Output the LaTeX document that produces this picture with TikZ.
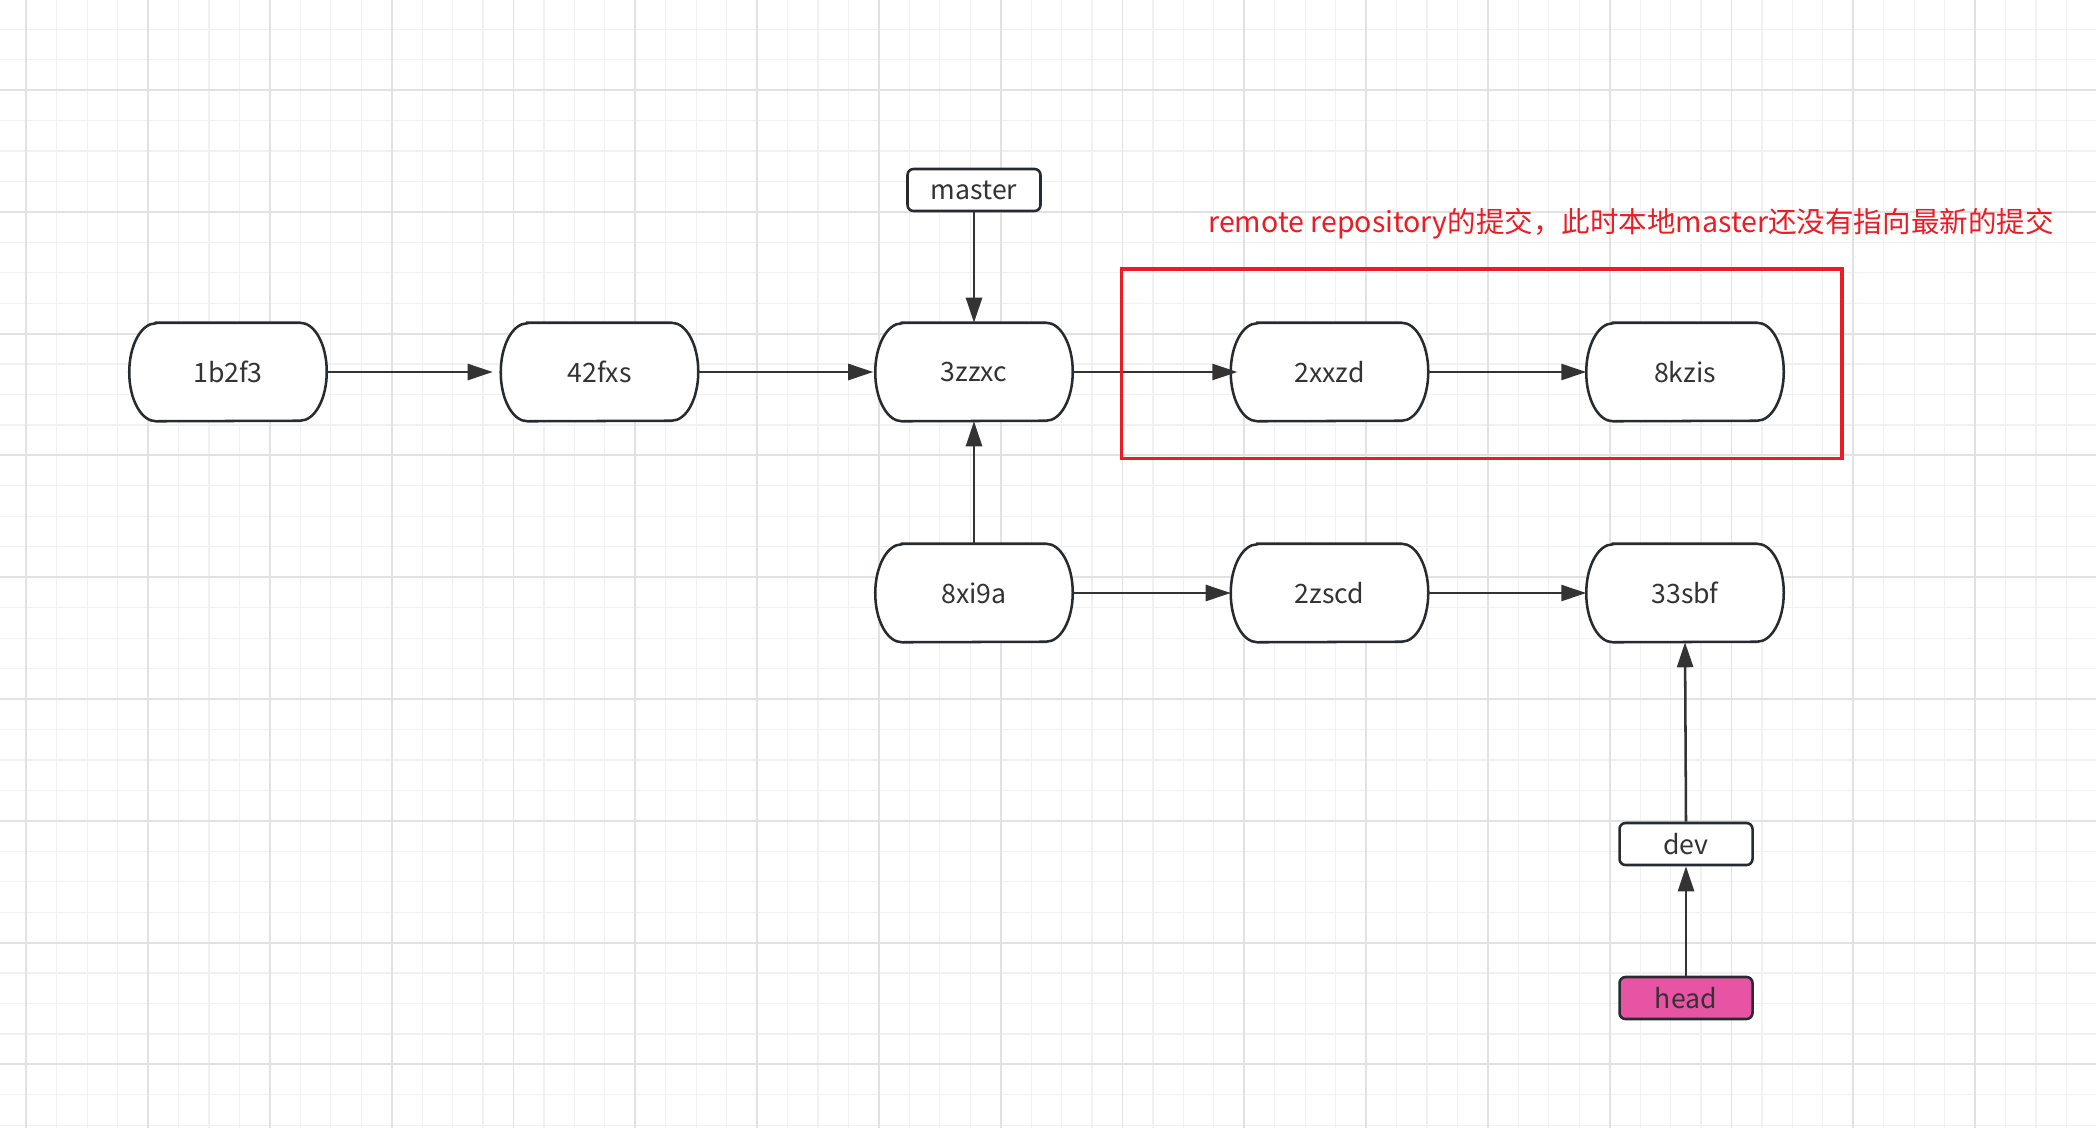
\documentclass[tikz,border=0pt]{standalone}
\usepackage{fontspec}
\setmainfont{Noto Sans CJK SC}
\usetikzlibrary{arrows.meta}
\definecolor{nodeborder}{RGB}{38,43,48}
\definecolor{arrowgray}{RGB}{51,51,51}
\definecolor{txtgray}{RGB}{51,51,51}
\definecolor{redline}{RGB}{234,28,36}
\definecolor{headpink}{RGB}{232,84,164}
\definecolor{gridmaj}{RGB}{226,226,226}
\definecolor{gridmin}{RGB}{241,241,241}
\begin{document}
\begin{tikzpicture}[x=0.75pt,y=-0.75pt,
  commit/.style={rectangle, minimum width=147.75pt, minimum height=73.5pt, inner sep=0pt,
    font=\fontsize{20}{24}\selectfont, text=txtgray},
  commitline/.style={draw=nodeborder, line width=1.9pt, fill=white},
  branch/.style={rectangle, rounded corners=4.5pt, draw=nodeborder, line width=1.9pt,
    minimum width=99.75pt, minimum height=31.5pt, inner sep=0pt,
    font=\fontsize{20}{24}\selectfont, text=txtgray, fill=white},
  link/.style={draw=arrowgray, line width=1.9pt, -{Triangle[length=18.75pt,width=12pt]}},
  gridminor/.style={draw=gridmin, line width=0.9pt},
  gridmajor/.style={draw=gridmaj, line width=1.4pt},
  remote/.style={draw=redline, line width=2.8pt},
  note/.style={text=redline, font=\fontsize{21.4}{25}\selectfont, inner sep=0pt, anchor=base west}]
\useasboundingbox (0,0) rectangle (2096,1128);
\fill[white] (0,0) rectangle (2096,1128);
% grid
\foreach \k in {0,...,68} {
  \pgfmathsetmacro\xx{26.3+30.45*\k}
  \pgfmathtruncatemacro\mm{mod(\k,4)}
  \ifnum\mm=0\relax\else\draw[gridminor] (\xx,0) -- (\xx,1128);\fi
}
\foreach \k in {-2,...,34} {
  \pgfmathsetmacro\yy{90+30.45*\k}
  \pgfmathtruncatemacro\mm{mod(\k+8,4)}
  \ifnum\mm=0\relax\else\draw[gridminor] (0,\yy) -- (2096,\yy);\fi
}
\foreach \k in {0,4,...,68} {
  \pgfmathsetmacro\xx{26.3+30.45*\k}
  \draw[gridmajor] (\xx,0) -- (\xx,1128);
}
\foreach \k in {0,4,...,32} {
  \pgfmathsetmacro\yy{90+30.45*\k}
  \draw[gridmajor] (0,\yy) -- (2096,\yy);
}
% commit nodes (positions)
\node[commit] (c1) at (228,372) {};
\node[commit] (c2) at (599.5,372) {};
\node[commit] (c3) at (974,372) {};
\node[commit] (c4) at (1329.5,372) {};
\node[commit] (c5) at (1685,372) {};
\node[commit] (r1) at (974,593) {};
\node[commit] (r2) at (1329.5,593) {};
\node[commit] (r3) at (1685,593) {};
% commit outlines
\foreach \n in {c1,c2,c3,c4,c5,r1,r2,r3} {
  \draw[commitline] ([xshift=20pt]\n.north west) -- ([xshift=-20pt]\n.north east)
    arc[start angle=90, end angle=0, x radius=20pt, y radius=36.75pt]
    arc[start angle=0, end angle=-90, x radius=20pt, y radius=36.75pt]
    -- ([xshift=20pt]\n.south west)
    arc[start angle=270, end angle=180, x radius=20pt, y radius=36.75pt]
    arc[start angle=180, end angle=90, x radius=20pt, y radius=36.75pt] -- cycle;
}
% commit labels
\node[commit] at (c1) {1b2f3};
\node[commit] at (c2) {42fxs};
\node[commit] at (c3) {3zzxc};
\node[commit] at (c4) {2xxzd};
\node[commit] at (c5) {8kzis};
\node[commit] at (r1) {8xi9a};
\node[commit] at (r2) {2zscd};
\node[commit] at (r3) {33sbf};
% branch labels
\node[branch] (master) at (974,190) {master};
\node[branch] (dev) at (1686,844) {dev};
\node[branch, fill=headpink] (head) at (1686,998) {head};
% connectors
\draw[link, shorten >=6pt] (c1.east) -- (c2.west);
\draw[link, shorten >=1.5pt] (c2.east) -- (c3.west);
\draw[link, shorten >=-5pt] (c3.east) -- (c4.west);
\draw[link] (c4.east) -- (c5.west);
\draw[link] (master.south) -- (c3.north);
\draw[link] (r1.north) -- (c3.south);
\draw[link] (r1.east) -- (r2.west);
\draw[link] (r2.east) -- (r3.west);
\draw[link] (dev.north) -- (r3.south);
\draw[link] (head.north) -- (dev.south);
% remote box and note
\draw[remote] (1121.5,269) rectangle (1842,458.5);
\node[note] (remotenote) at (1208,232) {remote repository的提交，此时本地master还没有指向最新的提交};
\end{tikzpicture}
\end{document}
